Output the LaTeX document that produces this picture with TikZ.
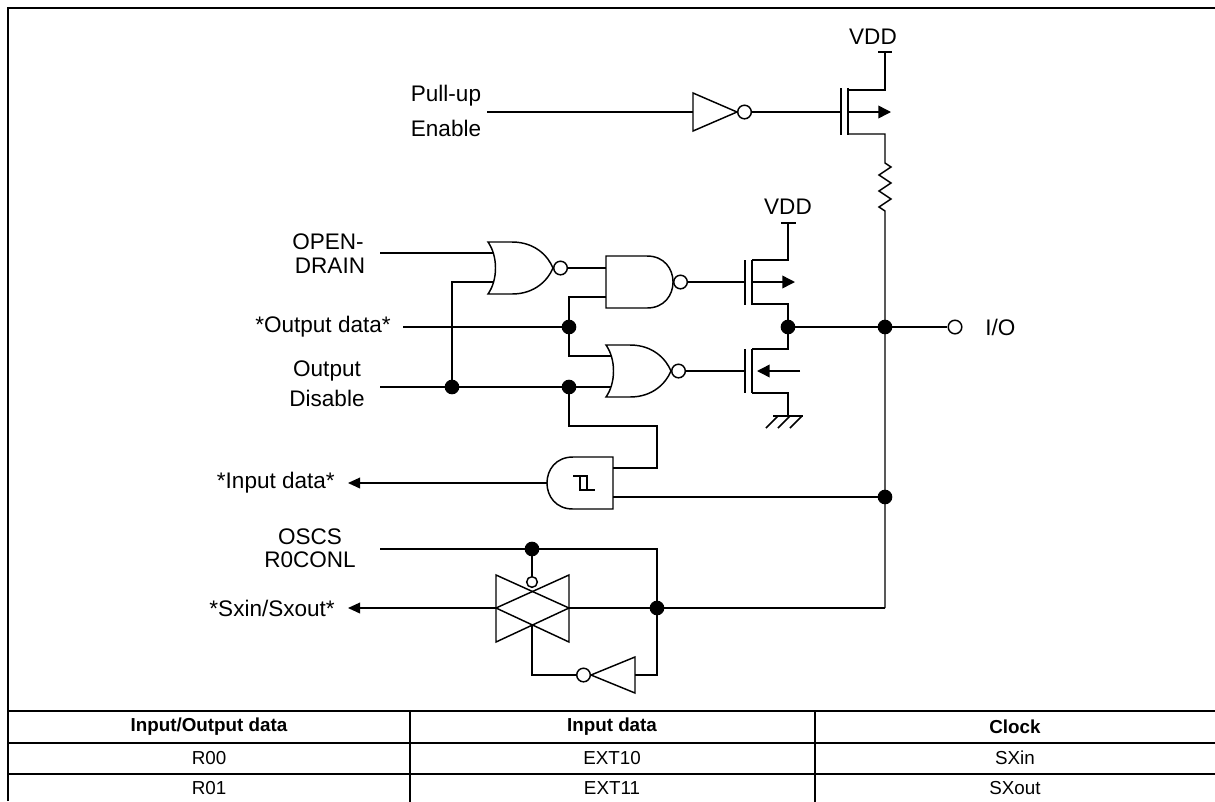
\documentclass[tikz,border=0pt]{standalone}
\usepackage{fontspec}
\setmainfont{Liberation Sans}
\usetikzlibrary{arrows.meta}
\begin{document}
\begin{tikzpicture}[x=0.75pt,y=-0.75pt,
 wire/.style={line width=1.1pt,line join=miter},
 frame/.style={line width=2pt},
 thinframe/.style={line width=1.3pt},
 junc/.style={circle,fill=black,inner sep=0pt,minimum size=11pt},
 bub/.style={circle,draw,line width=1.1pt,fill=white,inner sep=0pt,minimum size=10.2pt},
 tgbub/.style={bub,minimum size=8pt},
 lbl/.style={font=\fontsize{16.9}{20}\selectfont,inner sep=0pt},
 tbl/.style={font=\fontsize{14.1}{17}\selectfont,inner sep=0pt},
 tblh/.style={font=\fontsize{14.1}{17}\selectfont\bfseries,inner sep=0pt},
 arr/.style={wire,-{Triangle[length=9pt,width=8pt]}},
 arrm/.style={wire,-{Triangle[length=9.5pt,width=9.5pt]}},
]
\useasboundingbox (0,0) rectangle (1215,801);

% ---------- frame and table ----------
\draw[frame] (8,801) -- (8,8) -- (1216,8);
\draw[frame] (8,711) -- (1216,711);
\draw[frame] (8,743) -- (1216,743);
\draw[frame] (8,774) -- (1216,774);
\draw[thinframe] (410,711) -- (410,802);
\draw[thinframe] (815,711) -- (815,802);
\node[tblh] (h1) at (209,727) {Input/Output data};
\node[tblh] (h2) at (612,727) {Input data};
\node[tblh] (h3) at (1015,727) {Clock};
\node[tbl] (r1a) at (209,758) {R00};
\node[tbl] (r1b) at (612,758) {EXT10};
\node[tbl] (r1c) at (1015,758) {SXin};
\node[tbl] (r2a) at (209,788) {R01};
\node[tbl] (r2b) at (612,788) {EXT11};
\node[tbl] (r2c) at (1015,788) {SXout};

% ---------- labels ----------
\node[lbl] (pu1) at (446,96) {Pull-up};
\node[lbl] (pu2) at (446,128) {Enable};
\node[lbl] (od1) at (328,242) {OPEN-};
\node[lbl] (od2) at (330,266) {DRAIN};
\node[lbl] (outd) at (323,327) {*Output data*};
\node[lbl] (dis1) at (327,371) {Output};
\node[lbl] (dis2) at (327,398) {Disable};
\node[lbl,anchor=east] (ind) at (335,483) {*Input data*};
\node[lbl] (osc1) at (310,537) {OSCS};
\node[lbl] (osc2) at (310,560) {R0CONL};
\node[lbl,anchor=east] (sx) at (335,608) {*Sxin/Sxout*};
\node[lbl] (vdd1) at (873,37) {VDD};
\node[lbl] (vdd2) at (788,207) {VDD};
\node[lbl,anchor=west] (io) at (985,327) {I/O};

% ---------- pull-up path ----------
\coordinate (puin) at (487,112);
\draw[wire] (693,93) -- (737,112) -- (693,131) -- cycle;
\node[bub] (inv1b) at (744.5,112) {};
\draw[wire] (puin) -- (693,112);
\draw[wire] (inv1b) -- (841,112);
% PMOS 1
\draw[wire] (841,88) -- (841,135);
\draw[wire] (848,88) -- (848,135);
\draw[wire] (848,90) -- (885,90) -- (885,52);
\draw[wire] (878,52) -- (892,52);
\draw[arrm] (848,112) -- (891,112);
\draw[wire] (848,134) -- (885,134) -- (885,163) -- (891,167) -- (879,175) -- (891,183) -- (879,191) -- (891,199) -- (879,207) -- (885,211) -- (885,608);

% ---------- NOR 1 ----------
\begin{scope}[shift={(488,268)}]
\draw[wire] (0,-26) -- (24,-26) .. controls (47,-26) and (60,-12) .. (65,0) .. controls (60,12) and (47,26) .. (24,26) -- (0,26) .. controls (10,12) and (10,-12) .. (0,-26) -- cycle;
\node[bub] (nor1b) at (72.5,0) {};
\end{scope}
\draw[wire] (380,253) -- (493,253);
\draw[wire] (452,387) -- (452,282) -- (493,282);
\draw[wire] (nor1b) -- (606,268);

% ---------- NAND ----------
\begin{scope}[shift={(606,282)}]
\draw[wire] (0,-26) -- (41,-26) .. controls (75.7,-26) and (75.7,26) .. (41,26) -- (0,26) -- cycle;
\node[bub] (nandb) at (74.5,0) {};
\end{scope}
\draw[wire] (nandb) -- (745,282);

% ---------- NOR 2 ----------
\begin{scope}[shift={(606,371)}]
\draw[wire] (0,-26) -- (24,-26) .. controls (47,-26) and (60,-12) .. (65,0) .. controls (60,12) and (47,26) .. (24,26) -- (0,26) .. controls (10,12) and (10,-12) .. (0,-26) -- cycle;
\node[bub] (nor2b) at (72.5,0) {};
\end{scope}
\draw[wire] (nor2b) -- (745,371);

% ---------- inputs ----------
\draw[wire] (403,327) -- (569,327);
\draw[wire] (606,297) -- (569,297) -- (569,356) -- (611,356);
\draw[wire] (380,387) -- (611,387);
\draw[wire] (569,387) -- (569,426) -- (657,426) -- (657,468) -- (613,468);

% ---------- PMOS 2 ----------
\draw[wire] (745,260) -- (745,305);
\draw[wire] (752,260) -- (752,305);
\draw[wire] (752,260) -- (788,260) -- (788,223);
\draw[wire] (781,223) -- (796,223);
\draw[arrm] (752,282) -- (795,282);
\draw[wire] (752,304) -- (788,304) -- (788,349) -- (752,349);

% ---------- NMOS ----------
\draw[wire] (745,349) -- (745,393);
\draw[wire] (752,349) -- (752,393);
\draw[arrm] (800,371) -- (757,371);
\draw[wire] (752,393) -- (788,393) -- (788,416);
\draw[wire] (773,416) -- (803,416);
\draw[wire] (778,416) -- (766,428);
\draw[wire] (790,416) -- (778,428);
\draw[wire] (802,416) -- (790,428);

% ---------- I/O ----------
\node[bub] (iob) at (955,327) {};
\draw[wire] (788,327) -- (iob);

% ---------- Schmitt input ----------
\draw[wire] (613,457) -- (573,457) .. controls (538.3,457) and (538.3,509) .. (573,509) -- (613,509) -- cycle;
\draw[wire,line width=0.9pt] (573,476) -- (587,476) -- (587,490);
\draw[wire,line width=0.9pt] (580,476) -- (580,490) -- (595,490);
\draw[arr] (547,483) -- (348,483);
\draw[wire] (613,497) -- (885,497);

% ---------- transmission gate ----------
\draw[wire] (380,549) -- (657,549) -- (657,675) -- (635,675);
\node[tgbub] (tgb) at (532,582) {};
\draw[wire] (532,549) -- (tgb);
\draw[wire] (496,575) -- (569,608) -- (496,642) -- cycle;
\draw[wire] (569,575) -- (496,608) -- (569,642) -- cycle;
\draw[arr] (496,608) -- (348,608);
\draw[wire] (569,608) -- (885,608);
\draw[wire] (635,657) -- (591,675) -- (635,693) -- cycle;
\node[bub] (inv2b) at (583.5,675) {};
\draw[wire] (532,625) -- (532,675) -- (inv2b);

% ---------- junctions ----------
\node[junc] (j1) at (569,327) {};
\node[junc] (j2) at (452,387) {};
\node[junc] (j3) at (569,387) {};
\node[junc] (j4) at (788,327) {};
\node[junc] (j5) at (885,327) {};
\node[junc] (j6) at (885,497) {};
\node[junc] (j7) at (532,549) {};
\node[junc] (j8) at (657,608) {};
\end{tikzpicture}
\end{document}
